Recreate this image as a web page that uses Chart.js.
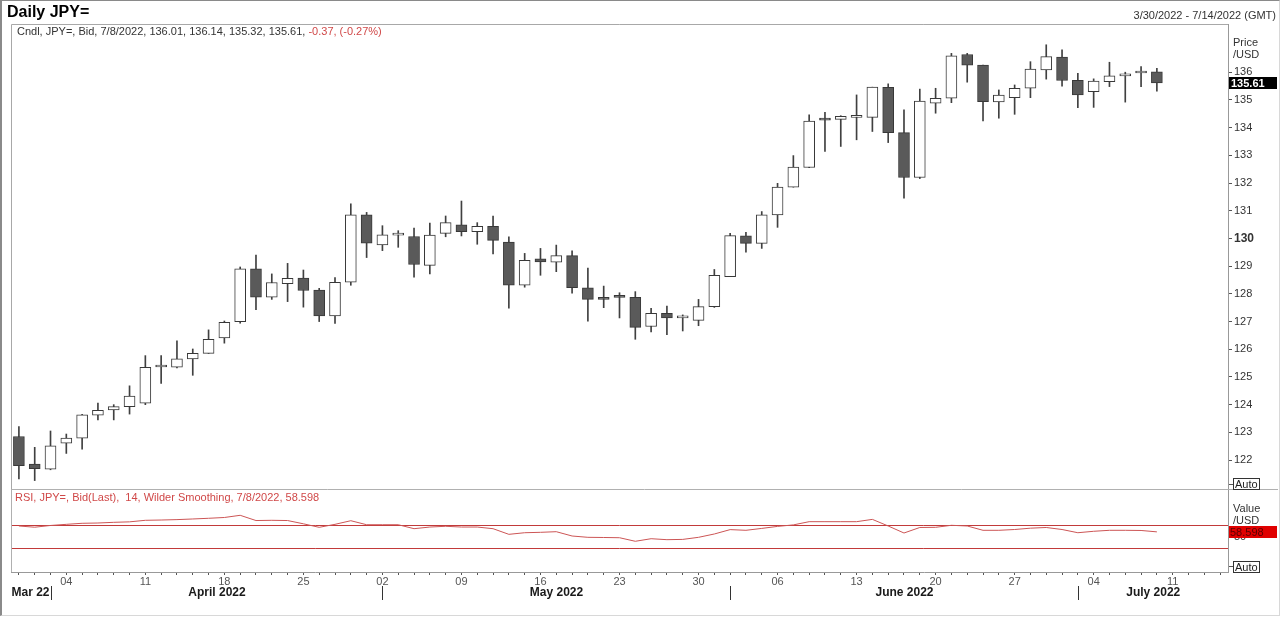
<!DOCTYPE html>
<html>
<head>
<meta charset="utf-8">
<script src="https://cdn.jsdelivr.net/npm/chart.js@4"></script>
<style>
  html, body { margin: 0; padding: 0; background: #fff; }
  #page { position: relative; width: 1280px; height: 617px; overflow: hidden; font-family: 'Liberation Sans', Arial, sans-serif; color: #333; }
  #frame { position: absolute; left: 0; top: 0; width: 1277px; height: 614px; border-left: 2px solid #8a8a8a; border-top: 1px solid #8a8a8a; border-right: 1px solid #d8d8d8; border-bottom: 1px solid #d8d8d8; }
  canvas { position: absolute; left: 0; top: 0; }
  .txt { position: absolute; white-space: nowrap; font-size: 11px; line-height: 13px; }
  .auto { position: absolute; font-size: 11px; line-height: 10px; height: 10px; padding: 0 1px; border: 1px solid #333; color: #222; background: #fff; }
  .dash { position: absolute; width: 4px; height: 1px; background: #555; }
</style>
</head>
<body>
<div id="page">
  <div id="frame"></div>
  <canvas id="mainChart" width="1280" height="617"></canvas>
  <canvas id="rsiChart" width="1280" height="617"></canvas>
  <div class="txt" style="left:7px;top:4px;font-size:16px;line-height:16px;font-weight:bold;color:#000;">Daily JPY=</div>
  <div class="txt" style="right:4px;top:9px;">3/30/2022 - 7/14/2022 (GMT)</div>
  <div class="txt" style="left:17px;top:25px;">Cndl, JPY=, Bid, 7/8/2022, 136.01, 136.14, 135.32, 135.61, <span style="color:#d04848">-0.37, (-0.27%)</span></div>
  <div class="txt" style="left:15px;top:491px;color:#d04848;">RSI, JPY=, Bid(Last),&nbsp; 14, Wilder Smoothing, 7/8/2022, 58.598</div>
  <div class="txt" style="left:1233px;top:36px;">Price</div>
  <div class="txt" style="left:1233px;top:48px;">/USD</div>
  <div class="txt" style="left:1233px;top:502px;">Value</div>
  <div class="txt" style="left:1233px;top:514px;">/USD</div>
  <div class="dash" style="left:1229px;top:484px;"></div>
  <div class="auto" style="left:1233px;top:478px;">Auto</div>
  <div class="dash" style="left:1229px;top:566px;"></div>
  <div class="auto" style="left:1233px;top:561px;">Auto</div>
</div>
<script>
// trading days on the axis (weekdays 3/30/2022 - 7/14/2022)
const days = [
  '2022-03-30', '2022-03-31',
  '2022-04-01', '2022-04-04', '2022-04-05', '2022-04-06', '2022-04-07', '2022-04-08',
  '2022-04-11', '2022-04-12', '2022-04-13', '2022-04-14', '2022-04-15',
  '2022-04-18', '2022-04-19', '2022-04-20', '2022-04-21', '2022-04-22',
  '2022-04-25', '2022-04-26', '2022-04-27', '2022-04-28', '2022-04-29',
  '2022-05-02', '2022-05-03', '2022-05-04', '2022-05-05', '2022-05-06',
  '2022-05-09', '2022-05-10', '2022-05-11', '2022-05-12', '2022-05-13',
  '2022-05-16', '2022-05-17', '2022-05-18', '2022-05-19', '2022-05-20',
  '2022-05-23', '2022-05-24', '2022-05-25', '2022-05-26', '2022-05-27',
  '2022-05-30', '2022-05-31', '2022-06-01', '2022-06-02', '2022-06-03',
  '2022-06-06', '2022-06-07', '2022-06-08', '2022-06-09', '2022-06-10',
  '2022-06-13', '2022-06-14', '2022-06-15', '2022-06-16', '2022-06-17',
  '2022-06-20', '2022-06-21', '2022-06-22', '2022-06-23', '2022-06-24',
  '2022-06-27', '2022-06-28', '2022-06-29', '2022-06-30', '2022-07-01',
  '2022-07-04', '2022-07-05', '2022-07-06', '2022-07-07', '2022-07-08',
  '2022-07-11', '2022-07-12', '2022-07-13', '2022-07-14'
];

const opens = [
  122.85, 121.86, 121.67, 122.61, 122.79, 123.62, 123.81, 123.93, 124.05, 125.36,
  125.35, 125.65, 125.85, 126.41, 127.00, 128.90, 127.88, 128.37, 128.57, 128.14,
  127.20, 128.42, 130.85, 129.77, 130.12, 130.07, 129.03, 130.18, 130.49, 130.24,
  130.44, 129.87, 128.31, 129.26, 129.14, 129.38, 128.22, 127.87, 127.94, 127.87,
  126.82, 127.30, 127.13, 127.04, 127.54, 128.62, 130.09, 129.82, 130.85, 131.85,
  132.56, 134.31, 134.30, 134.37, 134.37, 135.45, 133.82, 132.20, 134.88, 135.06,
  136.64, 136.26, 134.93, 135.08, 135.42, 136.08, 136.55, 135.71, 135.30, 135.66,
  135.87, 135.97, 136.01
];
const highs = [
  123.21, 122.46, 123.05, 122.94, 123.65, 124.06, 124.00, 124.68, 125.77, 125.77,
  126.30, 126.01, 126.70, 127.02, 128.97, 129.40, 128.72, 129.10, 128.86, 128.20,
  128.59, 131.25, 130.94, 130.46, 130.28, 130.37, 130.55, 130.81, 131.35, 130.57,
  130.81, 130.06, 129.46, 129.64, 129.76, 129.55, 128.93, 128.28, 128.04, 128.08,
  127.48, 127.56, 127.24, 127.80, 128.88, 130.18, 130.22, 130.97, 131.99, 132.99,
  134.46, 134.55, 134.43, 135.18, 135.46, 135.58, 134.64, 135.39, 135.42, 136.68,
  136.68, 136.26, 135.36, 135.54, 136.38, 136.99, 136.81, 135.96, 135.76, 136.36,
  136.00, 136.20, 136.14
];
const lows = [
  121.32, 121.26, 121.65, 122.24, 122.39, 123.45, 123.45, 123.66, 124.00, 124.77,
  125.33, 125.06, 125.85, 126.22, 126.94, 127.43, 127.80, 127.72, 127.52, 127.00,
  126.93, 128.31, 129.31, 129.56, 129.68, 128.60, 128.72, 130.06, 130.09, 129.79,
  129.44, 127.48, 128.24, 128.67, 128.80, 128.02, 127.01, 127.50, 127.13, 126.36,
  126.63, 126.53, 126.66, 126.85, 127.51, 128.62, 129.50, 129.64, 130.40, 131.85,
  132.55, 133.14, 133.32, 133.56, 133.86, 133.46, 131.45, 132.16, 134.52, 134.90,
  135.64, 134.24, 134.34, 134.48, 135.08, 135.75, 135.50, 134.72, 134.73, 135.48,
  134.92, 135.48, 135.32
];
const closes = [
  121.80, 121.69, 122.51, 122.79, 123.63, 123.80, 123.93, 124.31, 125.35, 125.37,
  125.65, 125.85, 126.36, 126.97, 128.90, 127.88, 128.41, 128.56, 128.12, 127.20,
  128.42, 130.85, 129.83, 130.13, 130.13, 129.06, 130.12, 130.57, 130.24, 130.44,
  129.93, 128.31, 129.21, 129.15, 129.38, 128.22, 127.80, 127.80, 127.87, 126.79,
  127.30, 127.13, 127.13, 127.54, 128.67, 130.10, 129.82, 130.85, 131.85, 132.58,
  134.24, 134.27, 134.41, 134.38, 135.46, 133.82, 132.20, 134.96, 135.06, 136.59,
  136.25, 134.94, 135.17, 135.42, 136.11, 136.56, 135.70, 135.18, 135.68, 135.87,
  135.94, 135.98, 135.61
];

// RSI(14), Wilder smoothing
const rsiValues = [
  68.8, 66.7, 69.7, 71.7, 73.5, 74.0, 75.2, 76.0, 78.7, 79.2,
  79.9, 81.0, 82.2, 83.6, 87.4, 78.3, 78.7, 78.3, 72.6, 66.5,
  71.7, 78.0, 71.0, 71.0, 71.0, 64.1, 67.0, 68.3, 67.0, 67.0,
  64.1, 54.3, 57.1, 57.8, 58.9, 51.4, 49.1, 48.8, 48.4, 42.2,
  46.7, 45.0, 45.5, 49.1, 54.9, 62.5, 61.3, 64.6, 68.1, 70.7,
  76.3, 76.3, 76.3, 76.3, 80.3, 68.8, 56.6, 66.2, 66.5, 70.0,
  68.8, 61.3, 61.3, 62.7, 65.0, 66.2, 62.7, 57.1, 59.6, 61.3,
  61.3, 61.0, 58.598
];
const rsiLevels = [70, 30];

const priceTicks = [122, 123, 124, 125, 126, 127, 128, 129, 130, 131, 132, 133, 134, 135, 136];
const rsiTicks = [50];
const monthLabels = ['Mar 22', 'April 2022', 'May 2022', 'June 2022', 'July 2022'];

const FONT = "'Liberation Sans', Arial, sans-serif";
Chart.defaults.font.family = FONT;
Chart.defaults.color = '#333';

const wickData = lows.map((l, i) => [l, highs[i]]);
const bodyData = opens.map((o, i) => [o, closes[i]]);
const bodyColors = opens.map((o, i) => closes[i] >= o ? '#ffffff' : '#5a5a5a');

const mainFrame = {
  id: 'mainFrame',
  afterDraw(chart) {
    const { ctx, chartArea: a, scales: { y } } = chart;
    ctx.save();
    ctx.strokeStyle = '#a8a8a8';
    ctx.lineWidth = 1;
    ctx.beginPath();
    ctx.moveTo(a.left + 0.5, a.bottom);
    ctx.lineTo(a.left + 0.5, a.top + 0.5);
    ctx.lineTo(a.right, a.top + 0.5);
    ctx.stroke();
    // last price tag on the axis
    const last = closes[closes.length - 1];
    const py = Math.round(y.getPixelForValue(last));
    ctx.fillStyle = '#000';
    ctx.fillRect(a.right + 1, py - 6, 48, 12);
    ctx.fillStyle = '#fff';
    ctx.font = 'bold 11px ' + FONT;
    ctx.textBaseline = 'middle';
    ctx.fillText(last.toFixed(2), a.right + 3, py + 0.5);
    ctx.restore();
  }
};

new Chart(document.getElementById('mainChart'), {
  type: 'bar',
  data: {
    labels: days,
    datasets: [
      {
        data: bodyData,
        grouped: false,
        order: 0,
        barThickness: 11,
        minBarLength: 2,
        backgroundColor: bodyColors,
        borderColor: '#383838',
        borderWidth: 1,
        borderSkipped: false
      },
      {
        data: wickData,
        grouped: false,
        order: 1,
        barThickness: 1,
        backgroundColor: '#404040',
        borderWidth: 0
      }
    ]
  },
  options: {
    responsive: false,
    animation: false,
    layout: { padding: { left: 11, top: 24, right: 0, bottom: 127 } },
    plugins: { legend: { display: false }, tooltip: { enabled: false } },
    scales: {
      x: { display: false, offset: true },
      y: {
        position: 'right',
        min: 120.92,
        max: 137.74,
        afterFit(scale) { scale.width = 52; },
        afterBuildTicks(scale) { scale.ticks = priceTicks.map(v => ({ value: v })); },
        grid: { drawOnChartArea: false, tickLength: 4, color: '#555' },
        border: { display: true, color: '#999' },
        ticks: {
          padding: 2,
          color: '#333',
          font: (c) => (c.tick && c.tick.value % 10 === 0) ? { size: 12, weight: 'bold' } : { size: 11 },
          callback: (v) => v
        }
      }
    }
  },
  plugins: [mainFrame]
});

const rsiExtras = {
  id: 'rsiExtras',
  beforeDatasetsDraw(chart) {
    const { ctx, chartArea: a, scales: { y } } = chart;
    ctx.save();
    ctx.lineWidth = 1;
    ctx.strokeStyle = '#c23a3a';
    // overbought / oversold levels
    rsiLevels.forEach(v => {
      const py = Math.round(y.getPixelForValue(v)) + 0.5;
      ctx.beginPath();
      ctx.moveTo(a.left, py);
      ctx.lineTo(a.right, py);
      ctx.stroke();
    });
    ctx.restore();
  },
  afterDraw(chart) {
    const { ctx, chartArea: a, scales: { x, y } } = chart;
    ctx.save();
    ctx.lineWidth = 1;
    // panel separator and left edge
    ctx.strokeStyle = '#b0b0b0';
    ctx.beginPath();
    ctx.moveTo(a.left, a.top - 0.5);
    ctx.lineTo(chart.width - 2, a.top - 0.5);
    ctx.moveTo(a.left + 0.5, a.top);
    ctx.lineTo(a.left + 0.5, a.bottom);
    ctx.stroke();

    // RSI value tag
    const last = rsiValues[rsiValues.length - 1];
    const py = Math.round(y.getPixelForValue(last));
    ctx.fillStyle = '#e00000';
    ctx.fillRect(a.right + 1, py - 6, 48, 12);
    ctx.fillStyle = '#5a0000';
    ctx.font = '11px ' + FONT;
    ctx.textBaseline = 'middle';
    ctx.fillText(last.toFixed(3), a.right + 2, py + 0.5);

    // month row
    const starts = [];
    days.forEach((d, i) => { if (i > 0 && d.slice(5, 7) !== days[i - 1].slice(5, 7)) starts.push(i); });
    const seps = starts.map(i => Math.round(x.getPixelForValue(i)) + 0.5);
    ctx.strokeStyle = '#333';
    ctx.beginPath();
    seps.forEach(sx => { ctx.moveTo(sx, 586); ctx.lineTo(sx, 600); });
    ctx.stroke();
    ctx.fillStyle = '#1a1a1a';
    ctx.font = 'bold 12px ' + FONT;
    ctx.textAlign = 'right';
    ctx.fillText(monthLabels[0], seps[0] - 2, 593);
    ctx.textAlign = 'center';
    for (let k = 1; k < monthLabels.length; k++) {
      const from = seps[k - 1];
      const to = k < seps.length ? seps[k] : a.right;
      ctx.fillText(monthLabels[k], (from + to) / 2, 593);
    }
    ctx.restore();
  }
};

new Chart(document.getElementById('rsiChart'), {
  type: 'line',
  data: {
    labels: days,
    datasets: [{
      data: rsiValues,
      borderColor: '#cc5555',
      borderWidth: 1,
      pointRadius: 0,
      tension: 0,
      fill: false
    }]
  },
  options: {
    responsive: false,
    animation: false,
    layout: { padding: { left: 11, top: 490, right: 0, bottom: 0 } },
    plugins: { legend: { display: false }, tooltip: { enabled: false } },
    scales: {
      x: {
        offset: true,
        afterFit(scale) { scale.height = 45; },
        grid: { drawOnChartArea: false, offset: false, tickLength: 3, color: '#555' },
        border: { display: true, color: '#999' },
        ticks: {
          autoSkip: false,
          maxRotation: 0,
          padding: 0,
          color: '#555',
          font: { size: 11 },
          callback(v) {
            const d = new Date(days[v] + 'T00:00:00Z');
            return d.getUTCDay() === 1 ? days[v].slice(8) : '';
          }
        }
      },
      y: {
        position: 'right',
        min: -11.2,
        max: 131.4,
        afterFit(scale) { scale.width = 52; },
        afterBuildTicks(scale) { scale.ticks = rsiTicks.map(v => ({ value: v })); },
        grid: { drawOnChartArea: false, tickLength: 4, color: '#555' },
        border: { display: true, color: '#999' },
        ticks: { padding: 2, color: '#333', font: { size: 11 } }
      }
    }
  },
  plugins: [rsiExtras]
});
</script>
</body>
</html>
